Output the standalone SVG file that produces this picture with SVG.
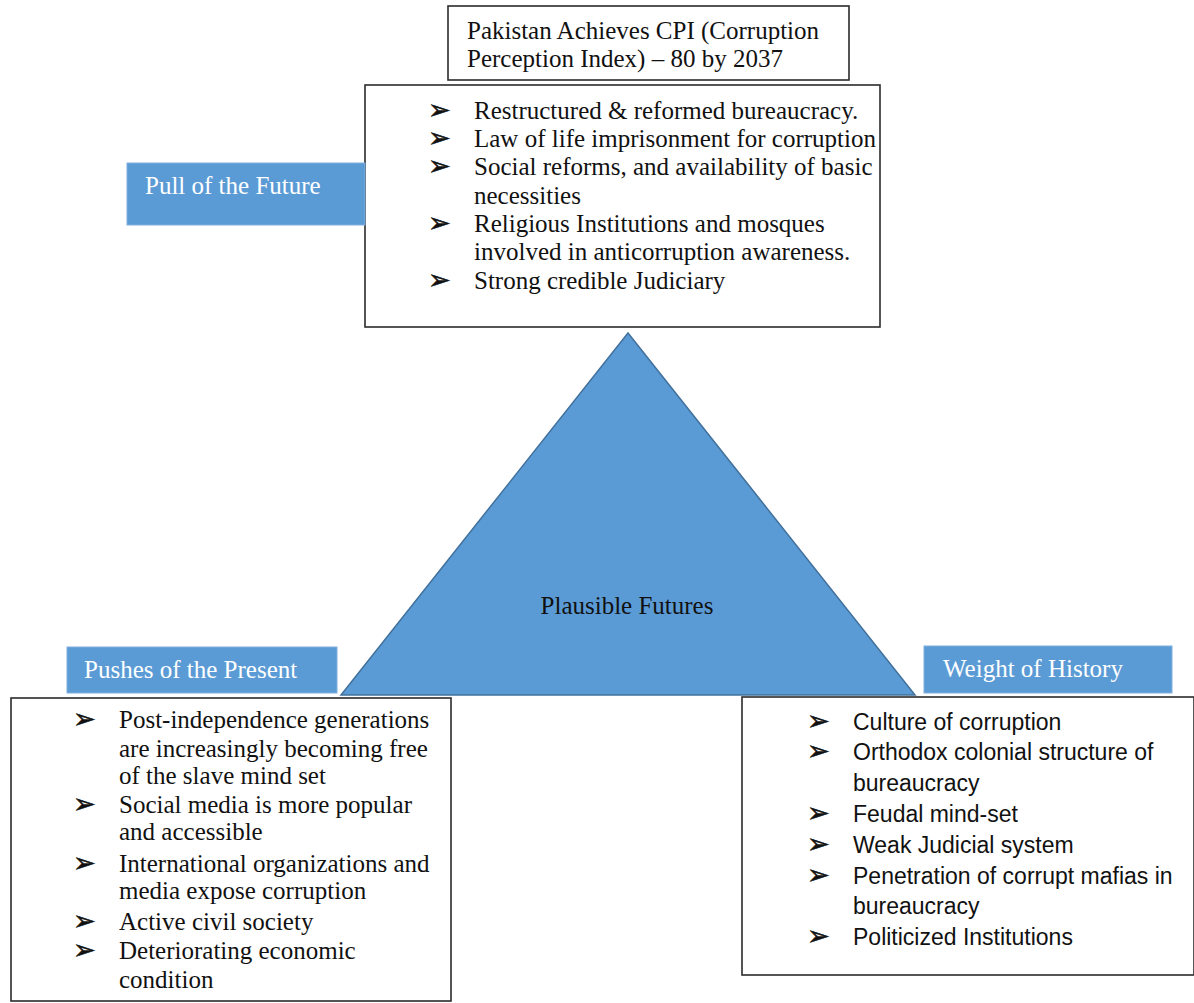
<svg xmlns="http://www.w3.org/2000/svg" width="1194" height="1003" viewBox="0 0 1194 1003">
<style>
.box{fill:#fff;stroke:#2b2b2b;stroke-width:1.6}
.lbl{fill:#5B9BD5;stroke:#7fb0dd;stroke-width:1}
.serif{font-family:"Liberation Serif","Times New Roman",serif;font-size:25px;fill:#111}
.sans{font-family:"Liberation Sans",Arial,sans-serif;font-size:23px;fill:#111}
.wt{font-family:"Liberation Serif","Times New Roman",serif;font-size:25px;fill:#fff}
.bul{font-family:"DejaVu Sans",sans-serif;font-size:27px;fill:#111;stroke:#111;stroke-width:0.6}
</style>
<rect width="1194" height="1003" fill="#fff"/>
<g id="triangle">
<polygon points="628,333 341,695 915,695" fill="#5B9BD5" stroke="#41719C" stroke-width="1.5"/>
<text class="serif" x="627" y="614" text-anchor="middle">Plausible Futures</text>
</g>
<g id="goal">
<rect class="box" x="448" y="6" width="401" height="74"/>
<text class="serif" x="467" y="39">Pakistan Achieves CPI (Corruption</text>
<text class="serif" x="467" y="67">Perception Index) – 80 by 2037</text>
</g>
<g id="pull-box">
<rect class="box" x="365" y="85" width="515" height="242"/>
<text class="bul"><tspan x="428" y="119">➢</tspan><tspan x="428" y="147">➢</tspan><tspan x="428" y="175">➢</tspan><tspan x="428" y="232">➢</tspan><tspan x="428" y="289">➢</tspan></text>
<g class="serif">
<text x="474" y="119">Restructured &amp; reformed bureaucracy.</text>
<text x="474" y="147">Law of life imprisonment for corruption</text>
<text x="474" y="175">Social reforms, and availability of basic</text>
<text x="474" y="204">necessities</text>
<text x="474" y="232">Religious Institutions and mosques</text>
<text x="474" y="260">involved in anticorruption awareness.</text>
<text x="474" y="289">Strong credible Judiciary</text>
</g>
</g>
<g id="pull-label">
<rect class="lbl" x="127" y="163" width="238" height="62"/>
<text class="wt" x="145" y="194">Pull of the Future</text>
</g>
<g id="push-label">
<rect class="lbl" x="67" y="647" width="270" height="46"/>
<text class="wt" x="84" y="678">Pushes of the Present</text>
</g>
<g id="push-box">
<rect class="box" x="11" y="698" width="440" height="303"/>
<text class="bul"><tspan x="73" y="728">➢</tspan><tspan x="73" y="813">➢</tspan><tspan x="73" y="872">➢</tspan><tspan x="73" y="930">➢</tspan><tspan x="73" y="959">➢</tspan></text>
<g class="serif">
<text x="119" y="728">Post-independence generations</text>
<text x="119" y="757">are increasingly becoming free</text>
<text x="119" y="784">of the slave mind set</text>
<text x="119" y="813">Social media is more popular</text>
<text x="119" y="840">and accessible</text>
<text x="119" y="872">International organizations and</text>
<text x="119" y="899">media expose corruption</text>
<text x="119" y="930">Active civil society</text>
<text x="119" y="959">Deteriorating economic</text>
<text x="119" y="988">condition</text>
</g>
</g>
<g id="weight-label">
<rect class="lbl" x="924" y="646" width="248" height="47"/>
<text class="wt" x="943" y="677">Weight of History</text>
</g>
<g id="weight-box">
<rect class="box" x="742" y="697" width="452" height="278"/>
<text class="bul"><tspan x="807" y="730">➢</tspan><tspan x="807" y="760">➢</tspan><tspan x="807" y="822">➢</tspan><tspan x="807" y="853">➢</tspan><tspan x="807" y="884">➢</tspan><tspan x="807" y="945">➢</tspan></text>
<g class="sans">
<text x="853" y="730">Culture of corruption</text>
<text x="853" y="760">Orthodox colonial structure of</text>
<text x="853" y="791">bureaucracy</text>
<text x="853" y="822">Feudal mind-set</text>
<text x="853" y="853">Weak Judicial system</text>
<text x="853" y="884">Penetration of corrupt mafias in</text>
<text x="853" y="914">bureaucracy</text>
<text x="853" y="945">Politicized Institutions</text>
</g>
</g>
<g id="connectors"></g>
</svg>
